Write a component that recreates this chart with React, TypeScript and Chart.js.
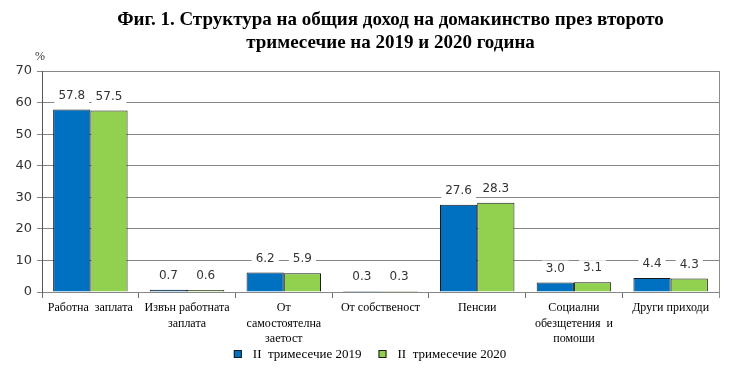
import React, { useEffect, useRef } from "react";
import { Chart, registerables } from "chart.js";

Chart.register(...registerables);

const categories: (string | string[])[] = [
  "Работна  заплата",
  ["Извън работната", "заплата"],
  ["От", "самостоятелна", "заетост"],
  "От собственост",
  "Пенсии",
  ["Социални", "обезщетения  и", "помощи"],
  "Други приходи",
];
const series2019 = [57.8, 0.7, 6.2, 0.3, 27.6, 3.0, 4.4];
const series2020 = [57.5, 0.6, 5.9, 0.3, 28.3, 3.1, 4.3];
const seriesNames = ["II  тримесечие 2019", "II  тримесечие 2020"];
const titleLines = [
  "Фиг. 1. Структура на общия доход на домакинство през второто",
  "тримесечие на 2019 и 2020 година",
];
const yUnit = "%";

const extrasPlugin = {
  id: "extras",
  afterDatasetsDraw(chart: any) {
    const ctx = chart.ctx;
    const area = chart.chartArea;
    ctx.save();
    // right border line
    ctx.strokeStyle = "#8c8c8c";
    ctx.lineWidth = 1;
    ctx.beginPath();
    ctx.moveTo(Math.round(area.right) + 0.5, area.top);
    ctx.lineTo(Math.round(area.right) + 0.5, area.bottom + 6);
    ctx.stroke();
    // data labels
    ctx.font = "12px 'DejaVu Sans'";
    ctx.textAlign = "center";
    ctx.textBaseline = "middle";
    chart.data.datasets.forEach((ds: any, di: number) => {
      const meta = chart.getDatasetMeta(di);
      meta.data.forEach((bar: any, i: number) => {
        const txt = Number(ds.data[i]).toFixed(1);
        const w = ctx.measureText(txt).width + 8;
        const cy = bar.y - 14;
        ctx.fillStyle = "#ffffff";
        ctx.fillRect(bar.x - w / 2, cy - 8, w, 16);
        ctx.fillStyle = "#333333";
        ctx.fillText(txt, bar.x, cy);
      });
    });
    ctx.restore();
  },
  afterDraw(chart: any) {
    const ctx = chart.ctx;
    const area = chart.chartArea;
    ctx.save();
    ctx.fillStyle = "#000000";
    ctx.textAlign = "center";
    ctx.textBaseline = "middle";
    ctx.font = "bold 19px 'Liberation Serif'";
    const cx = (area.left + area.right) / 2 + 10;
    ctx.fillText(titleLines[0], cx, 20);
    ctx.fillText(titleLines[1], cx, 43);
    ctx.font = "12px 'Liberation Serif'";
    ctx.fillStyle = "#333333";
    ctx.fillText(yUnit, area.left - 2, area.top - 14);

    // legend
    ctx.font = "13px 'Liberation Serif'";
    ctx.textAlign = "left";
    const sq = 8;
    const gap = 11;
    const spacing = 17;
    const items = chart.data.datasets.map((ds: any) => ({
      label: ds.label,
      color: ds.backgroundColor,
      w: ctx.measureText(ds.label).width,
    }));
    let total = 0;
    items.forEach((it: any, i: number) => {
      total += sq + gap + it.w + (i < items.length - 1 ? spacing : 0);
    });
    let x = chart.width / 2 - total / 2;
    const ly = 354;
    items.forEach((it: any) => {
      ctx.fillStyle = it.color;
      ctx.fillRect(x, ly - sq / 2, sq, sq);
      ctx.strokeStyle = "#1a1a1a";
      ctx.lineWidth = 1;
      ctx.strokeRect(x + 0.5, ly - sq / 2 + 0.5, sq - 1, sq - 1);
      ctx.fillStyle = "#000";
      ctx.fillText(it.label, x + sq + gap, ly + 1);
      x += sq + gap + it.w + spacing;
    });
    ctx.restore();
  },
};

export default function App() {
  const ref = useRef<HTMLCanvasElement>(null);
  useEffect(() => {
    document.body.style.margin = "0";
    const chart = new Chart(ref.current!, {
      type: "bar",
      data: {
        labels: categories,
        datasets: [
          {
            label: seriesNames[0],
            data: series2019,
            backgroundColor: "#0070C0",
            borderColor: "#1a1a1a",
            borderWidth: 1,
            categoryPercentage: 0.77,
            barPercentage: 1,
          },
          {
            label: seriesNames[1],
            data: series2020,
            backgroundColor: "#92D050",
            borderColor: "#1a1a1a",
            borderWidth: 1,
            categoryPercentage: 0.77,
            barPercentage: 1,
          },
        ],
      },
      options: {
        animation: false,
        responsive: false,
        layout: { padding: { top: 71, left: 0, right: 21, bottom: 31 } },
        plugins: {
          title: { display: false },
          tooltip: { enabled: false },
          legend: { display: false },
        },
        scales: {
          x: {
            grid: {
              display: true,
              drawOnChartArea: false,
              drawTicks: true,
              tickLength: 6,
              color: "#6e6e6e",
              offset: true,
            },
            border: { display: false },
            ticks: {
              color: "#000",
              padding: 2,
              autoSkip: false,
              maxRotation: 0,
              font: { family: "'Liberation Serif'", size: 12, lineHeight: 1.3 },
            },
            afterFit(scale: any) {
              scale.height = 50;
            },
          },
          y: {
            min: 0,
            max: 70,
            grid: { color: "#868686", tickLength: 5 },
            border: { display: true, color: "#555555" },
            ticks: {
              stepSize: 10,
              padding: 5,
              color: "#333",
              font: { family: "'DejaVu Sans'", size: 13 },
            },
            afterFit(scale: any) {
              scale.width = 42;
            },
          },
        },
      },
      plugins: [extrasPlugin],
    });
    return () => chart.destroy();
  }, []);
  return (
    <div style={{ position: "fixed", left: 0, top: 0, width: 740, height: 373, background: "#fff" }}>
      <canvas ref={ref} width={740} height={373} />
    </div>
  );
}
